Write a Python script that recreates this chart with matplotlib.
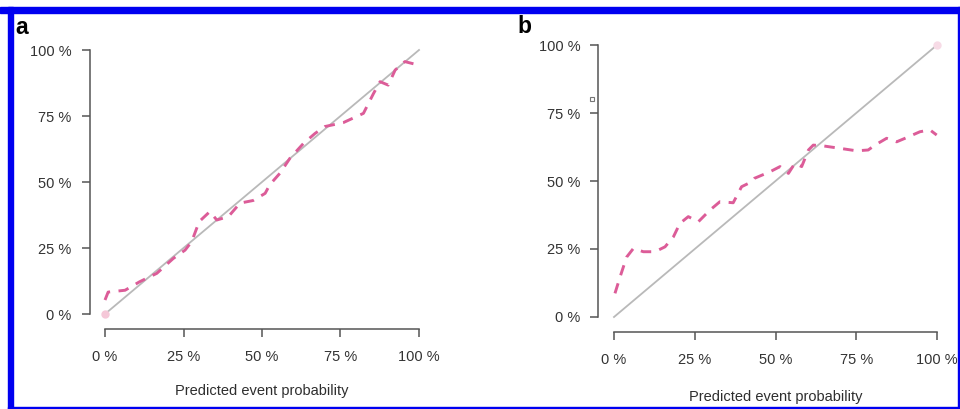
import numpy as np
import matplotlib.pyplot as plt
from matplotlib.patches import Rectangle

plt.rcParams['font.family'] = ['Liberation Sans', 'DejaVu Sans']

pred_a = [0.0, 0.01, 0.064, 0.11, 0.165, 0.217, 0.255, 0.276, 0.30, 0.334, 0.356,
          0.393, 0.43, 0.472, 0.51, 0.525, 0.557, 0.589, 0.632, 0.669, 0.70,
          0.759, 0.823, 0.855, 0.876, 0.902, 0.924, 0.955, 0.998]
obs_a = [0.053, 0.083, 0.09, 0.122, 0.154, 0.21, 0.242, 0.274, 0.35, 0.388, 0.356,
         0.369, 0.42, 0.43, 0.457, 0.49, 0.533, 0.59, 0.646, 0.684, 0.71,
         0.725, 0.76, 0.835, 0.88, 0.867, 0.924, 0.956, 0.943]

pred_b = [0.003, 0.019, 0.039, 0.06, 0.091, 0.127, 0.158, 0.184, 0.204, 0.23, 0.261,
          0.297, 0.328, 0.369, 0.395, 0.426, 0.435, 0.483, 0.514, 0.54, 0.56,
          0.581, 0.602, 0.617, 0.648, 0.70, 0.751, 0.787, 0.808, 0.844, 0.875,
          0.901, 0.947, 0.978, 0.999]
obs_b = [0.087, 0.148, 0.22, 0.252, 0.24, 0.24, 0.258, 0.295, 0.344, 0.369, 0.35,
         0.393, 0.424, 0.42, 0.479, 0.497, 0.51, 0.534, 0.553, 0.528, 0.565,
         0.553, 0.614, 0.632, 0.629, 0.62, 0.611, 0.614, 0.632, 0.657, 0.644,
         0.657, 0.681, 0.688, 0.669]

ticks = [0, 0.25, 0.5, 0.75, 1.0]
tick_labels = ['0 %', '25 %', '50 %', '75 %', '100 %']
panel_letters = ['a', 'b']
xlab = 'Predicted event probability'

W, H = 960, 409
fig = plt.figure(figsize=(W / 100, H / 100), dpi=100)


def px_axes(x0, x1, y0, y1):
    # x0/x1: pixel x of data 0 and 1; y0/y1: pixel y (from top) of data 0 and 1
    sx = x1 - x0
    sy = y0 - y1
    left = x0 - 0.04 * sx
    top = y1 - 0.04 * sy
    return fig.add_axes([left / W, 1 - (top + 1.08 * sy) / H, 1.08 * sx / W, 1.08 * sy / H])


axes = [px_axes(105, 419, 314, 50), px_axes(614, 937, 317, 45)]
curves = [(pred_a, obs_a), (pred_b, obs_b)]
label_pads = [14.5, 17]

for ax, (px, py), lp in zip(axes, curves, label_pads):
    ax.set_xlim(-0.04, 1.04)
    ax.set_ylim(-0.04, 1.04)
    ax.plot([0, 1], [0, 1], color='#b9b9b9', lw=1.3, zorder=2)
    ax.plot(px, py, color='#dc5c98', lw=2.1, dashes=(3.6, 2.9), zorder=3)
    for s in ['top', 'right']:
        ax.spines[s].set_visible(False)
    for s in ['left', 'bottom']:
        ax.spines[s].set_bounds(0, 1)
        ax.spines[s].set_color('#555555')
        ax.spines[s].set_linewidth(1.1)
    ax.spines['bottom'].set_position(('outward', 3))
    ax.spines['left'].set_position(('outward', 2))
    ax.set_xticks(ticks)
    ax.set_xticklabels(tick_labels)
    ax.set_yticks(ticks)
    ax.set_yticklabels(tick_labels)
    ax.tick_params(axis='both', length=6, width=1.1, color='#555555',
                   labelcolor='#333333', labelsize=10.5)
    ax.tick_params(axis='x', pad=9)
    ax.tick_params(axis='y', pad=7)
    ax.set_xlabel(xlab, fontsize=10.5, color='#2e2e2e', labelpad=lp)
    ax.patch.set_visible(False)

# faint end points
axes[0].plot([0], [0], 'o', ms=5, color='#f5c8d8', zorder=4)
axes[1].plot([1], [1], 'o', ms=5, color='#f7dbe6', zorder=4)
# stray small square in panel b
axes[1].plot([-0.068], [0.80], 's', ms=3.5, mfc='none', mec='#777777', mew=0.8, clip_on=False)

fig.text(15 / W, 1 - 34 / H, panel_letters[0], fontsize=16.5, fontweight='bold', va='baseline')
fig.text(517 / W, 1 - 33 / H, panel_letters[1], fontsize=16.5, fontweight='bold', va='baseline')

# blue frame
blue = '#0000f0'
fig.patches.append(Rectangle((0, 1 - 13 / H), 1, 6 / H, transform=fig.transFigure, color=blue))
fig.patches.append(Rectangle((8 / W, 0), 5 / W, 1 - 7 / H, transform=fig.transFigure, color=blue))
fig.patches.append(Rectangle((8 / W, 0.5 / H), 1, 2 / H, transform=fig.transFigure, color=blue))
fig.patches.append(Rectangle((958 / W, 0), 2 / W, 1 - 7 / H, transform=fig.transFigure, color=blue))

fig.savefig('out.png', dpi=100)
